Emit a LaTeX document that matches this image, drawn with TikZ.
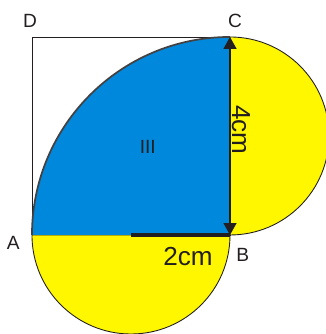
\documentclass[tikz,border=0pt]{standalone}
\usepackage{fontspec}
\setmainfont{Liberation Sans}
\usepackage{xcolor}
\usetikzlibrary{arrows.meta}
\definecolor{quarterblue}{RGB}{0,136,221}
\definecolor{halfyellow}{RGB}{255,247,0}
\definecolor{inkgray}{RGB}{35,31,32}

\begin{document}
\begin{tikzpicture}[font=\fontsize{11}{13}\selectfont,>={Triangle[length=2.4mm,width=2.6mm]},
  lbl/.style={inner sep=0pt,text=inkgray},
  dim/.style={lbl,font=\fontsize{15}{17}\selectfont},
  half/.style={fill=halfyellow,draw=inkgray,line width=0.5pt}]
\useasboundingbox (-0.646,-2.0) rectangle (5.939,4.747);
\coordinate (A) at (0,0); \coordinate (B) at (4,0);
\coordinate (C) at (4,4); \coordinate (D) at (0,4);
\coordinate (M) at (2,0);
\draw[line width=0.5pt,inkgray] (A) rectangle (C);
\filldraw[half] (A) arc[start angle=180,end angle=360,radius=2] -- cycle;
\filldraw[half] (B) arc[start angle=-90,end angle=90,radius=2] -- cycle;
\fill[quarterblue] (A) arc[start angle=180,end angle=90,radius=4] -- (B) -- cycle;
\draw[inkgray!85,line width=1pt] (A) arc[start angle=180,end angle=90,radius=4];
\draw[line width=2.3pt,inkgray] (M) -- (B);
\draw[<->,line width=0.9pt,inkgray] (B) -- (C);
\node[lbl] (labD) at (-0.04,4.32) {D};
\node[lbl] (labC) at (4.10,4.32) {C};
\node[lbl] (labA) at (-0.38,-0.16) {A};
\node[lbl] (labB) at (4.26,-0.40) {B};
\node[lbl] (area) at (2.34,1.78) {III};
\node[dim,rotate=-90] (len4) at (4.22,2.12) {4cm};
\node[dim] (len2) at (3.15,-0.44) {2cm};
\end{tikzpicture}
\end{document}
